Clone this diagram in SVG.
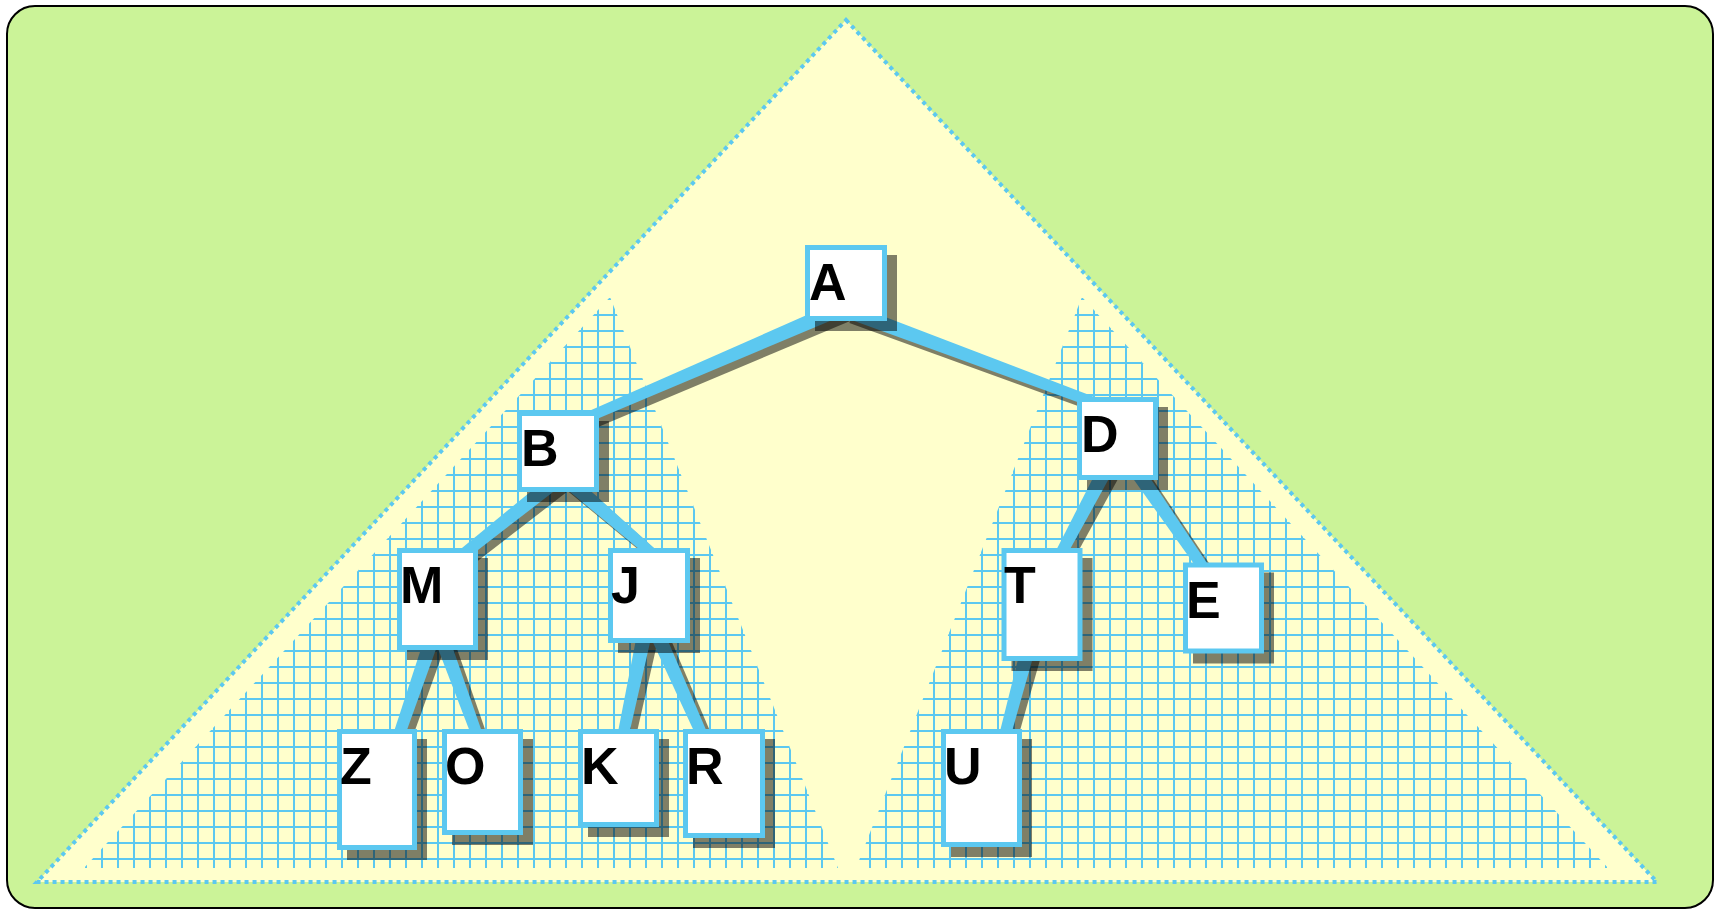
<svg xmlns="http://www.w3.org/2000/svg" width="1721" height="910" viewBox="0 0 1721 910">
<style>
.nd{fill:#ffffff;stroke:#5cc8f0;stroke-width:5}
.sh{fill:#000000;fill-opacity:0.5}
.lb{font-family:"Liberation Sans",Arial,sans-serif;font-weight:bold;font-size:52px;fill:#000000}
.ed{fill:#5cc8f0}
.es{fill:#000000;fill-opacity:0.5}
</style>
<defs>
<pattern id="grid" patternUnits="userSpaceOnUse" x="5" y="10" width="16" height="16">
<rect x="0" y="0" width="2" height="16" fill="#5cc8f0"/>
<rect x="0" y="0" width="16" height="2" fill="#5cc8f0"/>
</pattern>
<g id="edges">
<polygon id="e-A-B" points="843.03,299.11 556.02,425.41 559.98,434.59 848.97,312.89"/>
<polygon id="e-A-D" points="843.38,317.03 1115.25,415.69 1118.75,406.31 848.62,302.97"/>
<polygon id="e-B-M" points="554.33,472.14 427.88,576.09 434.12,583.91 563.67,483.86"/>
<polygon id="e-B-J" points="560.10,483.68 656.73,563.79 663.27,556.21 569.90,472.32"/>
<polygon id="e-M-Z" points="429.90,621.57 375.77,787.38 385.23,790.62 444.10,626.43"/>
<polygon id="e-M-O" points="429.46,626.58 485.31,771.72 494.69,768.28 443.54,621.42"/>
<polygon id="e-J-K" points="639.66,620.45 609.81,773.97 619.59,776.03 654.34,623.55"/>
<polygon id="e-J-R" points="644.95,625.05 717.43,782.03 726.57,777.97 658.65,618.95"/>
<polygon id="e-D-T" points="1103.97,456.49 1031.98,597.66 1040.82,602.34 1117.23,463.51"/>
<polygon id="e-D-E" points="1122.83,464.27 1221.69,602.84 1229.91,597.16 1135.17,455.73"/>
<polygon id="e-T-U" points="1025.75,628.07 988.17,778.71 997.83,781.29 1040.25,631.93"/>
</g>
</defs>
<rect x="7" y="6" width="1706" height="902" rx="28" ry="28" fill="#cbf398" stroke="#000000" stroke-width="2"/>
<polygon points="846,20 1657,882 37,882" fill="#ffffcc" stroke="#5cc8f0" stroke-width="4" stroke-dasharray="4 4"/>
<polygon id="left-region" points="610,297 838,868 84,868" fill="url(#grid)"/>
<polygon id="right-region" points="1082,297 1608,868 856,868" fill="url(#grid)"/>
<g id="connectors">
<use href="#edges" class="es" transform="translate(6,6)"/>
<use href="#edges" class="ed"/>
</g>
<g id="node-A"><rect class="sh" x="815" y="255" width="82" height="76"/><rect class="nd" x="807.5" y="247.5" width="77" height="71"/><text class="lb" x="809" y="300">A</text></g>
<g id="node-B"><rect class="sh" x="527" y="421" width="82" height="81"/><rect class="nd" x="519.5" y="413.5" width="77" height="76"/><text class="lb" x="521" y="466">B</text></g>
<g id="node-D"><rect class="sh" x="1087" y="407" width="81" height="83"/><rect class="nd" x="1079.5" y="399.5" width="76" height="78"/><text class="lb" x="1081" y="452">D</text></g>
<g id="node-M"><rect class="sh" x="407" y="558" width="81" height="102"/><rect class="nd" x="399.5" y="550.5" width="76" height="97"/><text class="lb" x="400" y="603">M</text></g>
<g id="node-J"><rect class="sh" x="618" y="558" width="82" height="95"/><rect class="nd" x="610.5" y="550.5" width="77" height="90"/><text class="lb" x="611" y="603">J</text></g>
<g id="node-T"><rect class="sh" x="1011.5" y="558" width="81" height="113"/><rect class="nd" x="1004" y="550.5" width="76" height="108"/><text class="lb" x="1004" y="603">T</text></g>
<g id="node-E"><rect class="sh" x="1193" y="572.5" width="81" height="91"/><rect class="nd" x="1185.5" y="565" width="76" height="86"/><text class="lb" x="1186" y="617.5">E</text></g>
<g id="node-Z"><rect class="sh" x="347" y="739" width="80" height="121"/><rect class="nd" x="339.5" y="731.5" width="75" height="116"/><text class="lb" x="340" y="784">Z</text></g>
<g id="node-O"><rect class="sh" x="452" y="739" width="81" height="106"/><rect class="nd" x="444.5" y="731.5" width="76" height="101"/><text class="lb" x="445" y="784">O</text></g>
<g id="node-K"><rect class="sh" x="588" y="739" width="81" height="98"/><rect class="nd" x="580.5" y="731.5" width="76" height="93"/><text class="lb" x="581" y="784">K</text></g>
<g id="node-R"><rect class="sh" x="693" y="739" width="82" height="109"/><rect class="nd" x="685.5" y="731.5" width="77" height="104"/><text class="lb" x="686" y="784">R</text></g>
<g id="node-U"><rect class="sh" x="951" y="739" width="81" height="118"/><rect class="nd" x="943.5" y="731.5" width="76" height="113"/><text class="lb" x="944" y="784">U</text></g>
</svg>
